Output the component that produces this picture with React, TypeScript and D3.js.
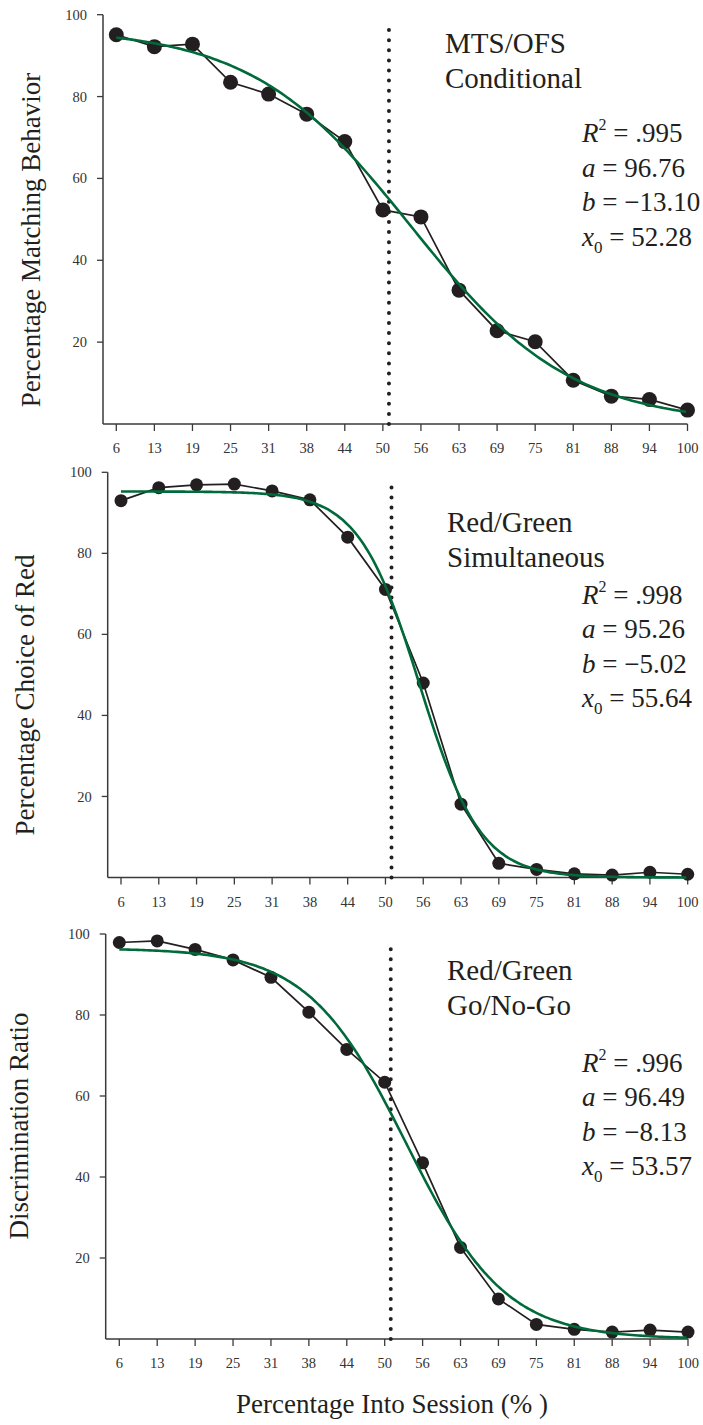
import React from "react";
import * as d3 from "d3";

// ---- data ----
const xValues = [6.25, 12.5, 18.75, 25, 31.25, 37.5, 43.75, 50, 56.25, 62.5, 68.75, 75, 81.25, 87.5, 93.75, 100];
const xTickLabels = ["6", "13", "19", "25", "31", "38", "44", "50", "56", "63", "69", "75", "81", "88", "94", "100"];
const yTicks = [20, 40, 60, 80, 100];

const mtsValues = [95.1, 92.2, 92.8, 83.5, 80.6, 75.7, 69.0, 52.3, 50.6, 32.7, 22.8, 20.1, 10.7, 6.8, 6.0, 3.4];
const simValues = [93.0, 96.2, 96.9, 97.1, 95.4, 93.2, 84.0, 71.1, 48.0, 18.1, 3.5, 2.0, 0.9, 0.6, 1.3, 0.8];
const goValues = [97.9, 98.3, 96.2, 93.6, 89.3, 80.7, 71.5, 63.4, 43.5, 22.6, 9.9, 3.6, 2.4, 1.7, 2.2, 1.7];

// logistic fit parameters as printed on the chart
const fitA = [96.76, 95.26, 96.49];
const fitB = [-13.1, -5.02, -8.13];
const fitX0 = [52.28, 55.64, 53.57];
// horizontal offset of the drawn fit curve relative to the axis (panel 1 curve sits slightly right)
const fitPlotShift = [2.3, 0, 0];
const r2Labels = [".995", ".998", ".996"];
const aLabels = ["96.76", "95.26", "96.49"];
const bLabels = ["\u221213.10", "\u22125.02", "\u22128.13"];
const x0Labels = ["52.28", "55.64", "53.57"];

const yTitles = ["Percentage Matching Behavior", "Percentage Choice of Red", "Discrimination Ratio"];
const conditionLabels = [["MTS/OFS", "Conditional"], ["Red/Green", "Simultaneous"], ["Red/Green", "Go/No-Go"]];
const seriesList = [mtsValues, simValues, goValues];
const referenceX = 51;
const referenceTop = 98.7;
const xTitle = "Percentage Into Session (% )";

// ---- layout (pixel positions) ----
const layout = [
  { axisX: 103, xa: 116.3, xb: 687.5, yTop: 14.7, yBot: 424, r: 7.5, titleX: 40, titleY: 240, labelX: 445, labelY: 53, statX: 582, statY: 142 },
  { axisX: 107.7, xa: 121, xb: 687.7, yTop: 472.3, yBot: 877.5, r: 6.5, titleX: 34, titleY: 695, labelX: 447, labelY: 531.7, statX: 582, statY: 603.5 },
  { axisX: 105.7, xa: 119.3, xb: 688, yTop: 934, yBot: 1339, r: 6.5, titleX: 28, titleY: 1126, labelX: 447, labelY: 980, statX: 582, statY: 1071.5 },
];

const FONT = "'Liberation Serif', 'Times New Roman', serif";
const INK = "#231f20";
const GREEN = "#006a3a";
const AXIS = "#3a3a3a";

function Panel({ idx }: { idx: number }) {
  const L = layout[idx];
  const values = seriesList[idx];
  const x = d3.scaleLinear().domain([6.25, 100]).range([L.xa, L.xb]);
  const y = d3.scaleLinear().domain([0, 100]).range([L.yBot, L.yTop]);
  const pts: [number, number][] = xValues.map((v, i) => [v, values[i]]);
  const line = d3.line<[number, number]>().x((d) => x(d[0])).y((d) => y(d[1]));
  const a = fitA[idx], b = fitB[idx], x0 = fitX0[idx], sh = fitPlotShift[idx];
  const fitPts: [number, number][] = d3.range(6.25, 100.01, 0.5).map((v) => [v, a / (1 + Math.exp(-(v - sh - x0) / b))]);
  const curve = d3.line<[number, number]>().x((d) => x(d[0])).y((d) => y(d[1])).curve(d3.curveBasis);
  const refTop = y(referenceTop);
  const refBot = y(0);
  const lineH = 34.6;
  return (
    <g>
      {/* axes */}
      <line x1={L.axisX} x2={L.axisX} y1={y(100)} y2={y(0)} stroke={AXIS} strokeWidth={1.5} />
      <line x1={L.axisX} x2={x(100)} y1={y(0)} y2={y(0)} stroke={AXIS} strokeWidth={1.5} />
      {yTicks.map((t) => (
        <g key={t}>
          <line x1={L.axisX - 6} x2={L.axisX} y1={y(t)} y2={y(t)} stroke={AXIS} strokeWidth={1.3} />
          <text x={L.axisX - 16} y={y(t)} dy="0.35em" textAnchor="end" fontSize={14.5} fill="#333" fontFamily={FONT}>{t}</text>
        </g>
      ))}
      {xValues.map((v, i) => (
        <g key={i}>
          <line x1={x(v)} x2={x(v)} y1={y(0)} y2={y(0) + 7} stroke={AXIS} strokeWidth={1.3} />
          <text x={x(v)} y={y(0) + 29} textAnchor="middle" fontSize={14.5} fill="#333" fontFamily={FONT}>{xTickLabels[i]}</text>
        </g>
      ))}
      {/* reference dotted line */}
      <line x1={x(referenceX)} x2={x(referenceX)} y1={refBot} y2={refTop} stroke={INK} strokeWidth={4}
        strokeLinecap="round" strokeDasharray={`0 ${(refBot - refTop) / 40}`} />
      {/* data */}
      <path d={line(pts) || ""} fill="none" stroke={INK} strokeWidth={1.7} />
      {pts.map((d, i) => (
        <circle key={i} cx={x(d[0])} cy={y(d[1])} r={L.r} fill={INK} />
      ))}
      <path d={curve(fitPts) || ""} fill="none" stroke={GREEN} strokeWidth={2.6} />
      {/* y title */}
      <text transform={`translate(${L.titleX},${L.titleY}) rotate(-90)`} textAnchor="middle" fontSize={27} fill={INK} fontFamily={FONT}>{yTitles[idx]}</text>
      {/* condition labels */}
      {conditionLabels[idx].map((s, i) => (
        <text key={i} x={L.labelX} y={L.labelY + i * 35} fontSize={29} fill={INK} fontFamily={FONT}>{s}</text>
      ))}
      {/* stats */}
      <g fontFamily={FONT} fontSize={27} fill={INK} style={{ whiteSpace: "pre" }}>
        <text x={L.statX} y={L.statY}>
          <tspan fontStyle="italic">R</tspan>
          <tspan fontSize={16} dy={-12}>2</tspan>
          <tspan dy={12}>{" = " + r2Labels[idx]}</tspan>
        </text>
        <text x={L.statX} y={L.statY + lineH}>
          <tspan fontStyle="italic">a</tspan>
          <tspan>{" = " + aLabels[idx]}</tspan>
        </text>
        <text x={L.statX} y={L.statY + lineH * 2}>
          <tspan fontStyle="italic">b</tspan>
          <tspan>{" = " + bLabels[idx]}</tspan>
        </text>
        <text x={L.statX} y={L.statY + lineH * 3}>
          <tspan fontStyle="italic">x</tspan>
          <tspan fontSize={17} dy={7}>0</tspan>
          <tspan dy={-7}>{" = " + x0Labels[idx]}</tspan>
        </text>
      </g>
    </g>
  );
}

export default function App() {
  return (
    <svg width={703} height={1425} style={{ position: "absolute", left: 0, top: 0, background: "#fff" }}>
      <rect width={703} height={1425} fill="#fff" />
      {[0, 1, 2].map((i) => (
        <Panel key={i} idx={i} />
      ))}
      <text x={392} y={1413} textAnchor="middle" fontSize={27} fill={INK} fontFamily={FONT}>{xTitle}</text>
    </svg>
  );
}
